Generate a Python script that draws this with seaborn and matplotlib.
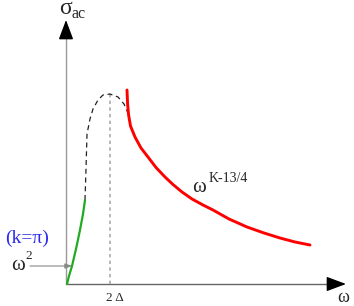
import numpy as np
import pandas as pd
import seaborn as sns
import matplotlib.pyplot as plt

# ---------------- DATA ----------------------------------------
# omega / sigma in arbitrary sketch units, origin at the axes corner
green_w = [1, 3, 6, 10, 14, 17, 19]
green_s = [0, 8, 18, 35, 54, 70, 84]

dash_w = [19, 20, 21, 24, 27, 32, 37, 44, 52, 58, 62]
dash_s = [84, 115, 150, 165, 175, 184, 189, 190, 187, 180, 171]

red_w = [61, 61.6, 62.6, 64.5, 69, 75, 82, 90, 99, 107, 116, 126, 137, 147, 163, 181, 198, 214, 229, 244]
red_s = [194, 180, 169, 158, 147, 136, 127, 116.5, 107, 99.5, 92, 85, 79, 74, 65, 57, 51, 46, 42, 39]

gap_w = 44          # 2*Delta position
gap_top = 190
w2_level = 18       # omega^2 pointer height
x_end, y_end = 280, 264

sns.set_style("white")
plt.rcParams['font.family'] = ['Liberation Serif', 'DejaVu Serif']

fig = plt.figure(figsize=(3.54, 3.06), dpi=100)
ax = fig.add_axes([0, 0, 1, 1])
ax.set_xlim(-66, 288)
ax.set_ylim(-22, 284)

# axes: grey shafts, black heads
ax.plot([0, x_end - 14], [0, 0], color='#666666', lw=1)
ax.plot([0, 0], [0, y_end - 12], color='#999999', lw=1)
head = dict(arrowstyle='-|>,head_length=1.2,head_width=0.45', color='black',
            lw=1, shrinkA=0, shrinkB=0)
ax.annotate('', xy=(x_end, 0), xytext=(x_end - 15, 0), arrowprops=head)
ax.annotate('', xy=(0, y_end), xytext=(0, y_end - 13), arrowprops=head)

# dotted 2 Delta marker
ax.plot([gap_w, gap_w], [0, gap_top], color='#aaaaaa', ls=(0, (2, 2)), lw=1.2)

# curves
sns.lineplot(data=pd.DataFrame({'w': dash_w, 's': dash_s}), x='w', y='s', ax=ax,
             color='#222222', lw=0.9, sort=False, estimator=None)
ax.lines[-1].set_dashes([4, 3])
sns.lineplot(data=pd.DataFrame({'w': green_w, 's': green_s}), x='w', y='s', ax=ax,
             color='#22aa22', lw=1.6, sort=False, estimator=None)
sns.lineplot(data=pd.DataFrame({'w': red_w, 's': red_s}), x='w', y='s', ax=ax,
             color='red', lw=2.1, sort=False, estimator=None)
ax.axis('off')

# omega^2 pointer
ax.annotate('', xy=(6, w2_level), xytext=(-36, w2_level),
            arrowprops=dict(arrowstyle='-|>,head_length=0.4,head_width=0.15',
                            color='#888888', lw=0.8, shrinkA=0, shrinkB=0))

# labels
ax.text(0, 275, 'σ', fontsize=17, ha='center', va='center')
ax.text(6, 270, 'ac', fontsize=11.5, ha='left', va='center')
ax.text(277, -14, 'ω', fontsize=13, ha='center', va='center')
ax.text(49, -14, '2 Δ', fontsize=9.5, ha='center', va='center')
ax.text(126, 96, 'ω', fontsize=15, ha='left', va='center')
ax.text(143, 106, 'K-13/4', fontsize=10, ha='left', va='center')
ax.text(-55, 19, 'ω', fontsize=15, ha='left', va='center')
ax.text(-41, 28, '2', fontsize=9.5, ha='left', va='center')
ax.text(-39, 46, '(k=π)', fontsize=14, ha='center', va='center',
        color='#2a2aee')

fig.savefig('out.png', dpi=100)
